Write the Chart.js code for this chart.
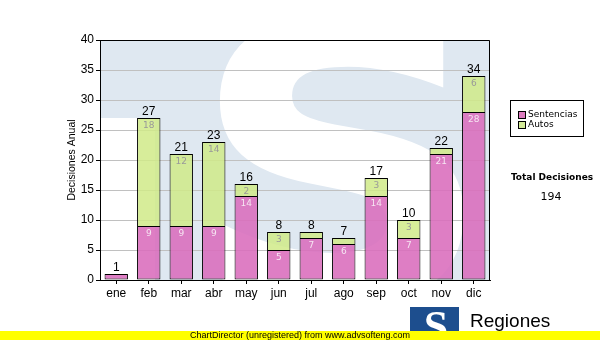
<!DOCTYPE html>
<html>
<head>
<meta charset="utf-8">
<script src="https://cdn.jsdelivr.net/npm/chart.js@4"></script>
<style>
    html, body { margin: 0; padding: 0; background: #fff; }
    #wrap { width: 600px; height: 340px; }
</style>
</head>
<body>
<div id="wrap"><canvas id="decisiones" width="600" height="340"></canvas></div>
<script>
// Decisiones anuales por mes - Regiones

const meses = ['ene', 'feb', 'mar', 'abr', 'may', 'jun', 'jul', 'ago', 'sep', 'oct', 'nov', 'dic'];
const sentencias = [1, 9, 9, 9, 14, 5, 7, 6, 14, 7, 21, 28];
const autos = [0, 18, 12, 14, 2, 3, 1, 1, 3, 3, 1, 6];
const yMax = 40;
const yStep = 5;

const colors = {
    sentencias: 'rgba(218, 108, 188, 0.88)',
    autos: 'rgba(208, 234, 136, 0.85)',
    sentenciasKey: '#dd7cc0',
    autosKey: '#d4eb98',
    plotBg: '#dfe8f1',
    grid: '#c0c0c0',
    logo: '#1d4e8e'
};

const sansFont = '"Liberation Sans", Arial, sans-serif';
const verdanaFont = '"DejaVu Sans", Verdana, sans-serif';

// fondo del area de trazado con la "S" de marca de agua
const watermarkPlugin = {
    id: 'watermark',
    beforeDraw(chart) {
        const { ctx, chartArea: a } = chart;
        ctx.save();
        ctx.fillStyle = colors.plotBg;
        ctx.fillRect(a.left, a.top, a.right - a.left, a.bottom - a.top);
        ctx.beginPath();
        ctx.rect(a.left, a.top, a.right - a.left, a.bottom - a.top);
        ctx.clip();
        ctx.fillStyle = '#ffffff';
        ctx.fillRect(a.left, 118, 55, a.bottom - 118);
        ctx.translate(342, 0);
        ctx.scale(1.1, 1);
        ctx.font = 'bold 385px "DejaVu Sans", sans-serif';
        ctx.textAlign = 'center';
        ctx.textBaseline = 'alphabetic';
        ctx.fillText('S', 0, 300);
        ctx.restore();
    },
    beforeDatasetsDraw(chart) {
        const { ctx, chartArea: a } = chart;
        ctx.save();
        ctx.strokeStyle = '#000';
        ctx.lineWidth = 1;
        ctx.beginPath();
        ctx.moveTo(a.left + 0.5, a.top + 0.5);
        ctx.lineTo(a.right - 0.5, a.top + 0.5);
        ctx.lineTo(a.right - 0.5, a.bottom);
        ctx.stroke();
        ctx.restore();
    }
};

// etiquetas dentro de las barras y totales encima
const labelsPlugin = {
    id: 'barLabels',
    afterDatasetsDraw(chart) {
        const { ctx } = chart;
        ctx.save();
        ctx.textAlign = 'center';
        const inner = [
            { meta: chart.getDatasetMeta(0), values: sentencias, color: '#f6e6f2' },
            { meta: chart.getDatasetMeta(1), values: autos, color: '#999999' }
        ];
        ctx.font = '9px ' + verdanaFont;
        ctx.textBaseline = 'top';
        inner.forEach(s => {
            s.meta.data.forEach((bar, i) => {
                if (s.values[i] < 2) return;
                ctx.fillStyle = s.color;
                ctx.fillText(String(s.values[i]), bar.x, bar.y + 3);
            });
        });
        ctx.font = '12px ' + sansFont;
        ctx.fillStyle = '#000';
        ctx.textBaseline = 'alphabetic';
        const y = chart.scales.y;
        meses.forEach((m, i) => {
            const total = sentencias[i] + autos[i];
            const x = chart.getDatasetMeta(0).data[i].x;
            ctx.fillText(String(total), x, y.getPixelForValue(total) - 3);
        });
        ctx.restore();
    }
};

// leyenda, total, logo y pie
const extrasPlugin = {
    id: 'extras',
    afterDraw(chart) {
        const { ctx } = chart;
        ctx.save();

        // leyenda
        ctx.fillStyle = '#fff';
        ctx.fillRect(510, 100, 73, 36);
        ctx.strokeStyle = '#000';
        ctx.lineWidth = 1;
        ctx.strokeRect(510.5, 100.5, 73, 36);
        const keys = [
            { text: 'Sentencias', color: colors.sentenciasKey, y: 111 },
            { text: 'Autos', color: colors.autosKey, y: 121 }
        ];
        ctx.font = '9px ' + verdanaFont;
        ctx.textBaseline = 'middle';
        ctx.textAlign = 'left';
        keys.forEach(k => {
            ctx.fillStyle = k.color;
            ctx.fillRect(518, k.y, 7, 7);
            ctx.strokeRect(518.5, k.y + 0.5, 7, 7);
            ctx.fillStyle = '#000';
            ctx.fillText(k.text, 528, k.y + 4);
        });

        // total
        const total = sentencias.reduce((a, b) => a + b, 0) + autos.reduce((a, b) => a + b, 0);
        ctx.textAlign = 'center';
        ctx.font = 'bold 9px ' + verdanaFont;
        ctx.fillText('Total Decisiones', 552, 178);
        ctx.font = '11px ' + verdanaFont;
        ctx.fillText(String(total), 551, 197);

        // logo
        ctx.fillStyle = colors.logo;
        ctx.fillRect(410, 307, 49, 26);
        ctx.save();
        ctx.beginPath();
        ctx.rect(410, 307, 49, 26);
        ctx.clip();
        ctx.fillStyle = '#fff';
        ctx.font = 'bold 44px "Liberation Serif", serif';
        ctx.textBaseline = 'alphabetic';
        ctx.fillText('S', 436, 341);
        ctx.restore();
        ctx.fillStyle = '#000';
        ctx.textAlign = 'left';
        ctx.font = '19px ' + sansFont;
        ctx.fillText('Regiones', 470, 322);
        ctx.font = '10px ' + sansFont;
        ctx.fillText('Tribunal Supremo de Justicia', 470, 336);

        // pie amarillo
        ctx.fillStyle = '#ffff00';
        ctx.fillRect(0, 331, 600, 9);
        ctx.fillStyle = '#000';
        ctx.font = '9px ' + sansFont;
        ctx.textBaseline = 'middle';
        ctx.fillText('ChartDirector (unregistered) from www.advsofteng.com', 190, 335.5);

        ctx.restore();
    }
};

const ctx = document.getElementById('decisiones');

new Chart(ctx, {
    type: 'bar',
    data: {
        labels: meses,
        datasets: [
            {
                label: 'Sentencias',
                data: sentencias,
                backgroundColor: colors.sentencias,
                borderColor: '#000',
                borderWidth: c => (c.raw === 0 ? 0 : 1),
                borderSkipped: false,
                barPercentage: 0.72,
                categoryPercentage: 1
            },
            {
                label: 'Autos',
                data: autos,
                backgroundColor: colors.autos,
                borderColor: '#000',
                borderWidth: c => (c.raw === 0 ? 0 : 1),
                borderSkipped: 'bottom',
                barPercentage: 0.72,
                categoryPercentage: 1
            }
        ]
    },
    options: {
        responsive: false,
        animation: false,
        layout: { padding: { left: 0, right: 110, top: 40, bottom: 0 } },
        plugins: {
            legend: { display: false },
            tooltip: { enabled: false }
        },
        scales: {
            x: {
                stacked: true,
                afterFit: s => { s.height = 60; },
                grid: {
                    offset: false,
                    drawOnChartArea: false,
                    drawTicks: true,
                    tickLength: 4,
                    color: '#000'
                },
                border: { color: '#000', width: 1 },
                ticks: {
                    color: '#000',
                    padding: 2,
                    maxRotation: 0,
                    font: { family: sansFont, size: 12 }
                }
            },
            y: {
                stacked: true,
                min: 0,
                max: yMax,
                afterFit: s => { s.width = 100; },
                grid: {
                    color: colors.grid,
                    tickLength: 4,
                    tickColor: '#000'
                },
                border: { color: '#000', width: 1 },
                ticks: {
                    stepSize: yStep,
                    color: '#000',
                    padding: 2,
                    font: { family: sansFont, size: 12 }
                },
                title: {
                    display: true,
                    text: 'Decisiones Anual',
                    color: '#000',
                    padding: { top: 66, bottom: 0 },
                    font: { family: sansFont, size: 10.5 }
                }
            }
        }
    },
    plugins: [watermarkPlugin, labelsPlugin, extrasPlugin]
});
</script>
</body>
</html>
